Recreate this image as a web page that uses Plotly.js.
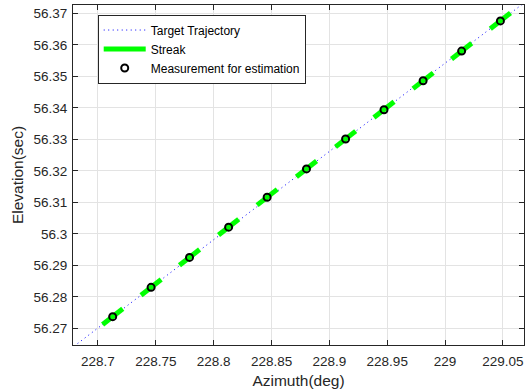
<!DOCTYPE html>
<html>
<head>
<meta charset="utf-8">
<script src="https://cdn.plot.ly/plotly-3.0.1.min.js"></script>
<style>html,body{margin:0;padding:0;background:#fff;}#chart{width:525px;height:392px;}</style>
</head>
<body>
<div id="chart"></div>
<script>
// Target trajectory (endpoints, extending past the axes)
var trajAz = [228.670, 229.070];
var trajEl = [56.2617, 56.3738];

// Measurements for estimation
var measAz = [228.7127, 228.7459, 228.7791, 228.8129, 228.8462, 228.8802, 228.9140, 228.9472, 228.9810, 229.0143, 229.0478];
var measEl = [56.2737, 56.2830, 56.2925, 56.3021, 56.3116, 56.3206, 56.3301, 56.3394, 56.3486, 56.3580, 56.3676];

// Streak segments (start / end)
var streakAzStart = [228.7040, 228.7372, 228.7704, 228.8042, 228.8375, 228.8715, 228.9053, 228.9385, 228.9723, 229.0056, 229.0391];
var streakAzEnd   = [228.7214, 228.7546, 228.7878, 228.8216, 228.8549, 228.8889, 228.9227, 228.9559, 228.9897, 229.0230, 229.0565];
var streakElStart = [56.2712, 56.2805, 56.2900, 56.2996, 56.3091, 56.3181, 56.3276, 56.3369, 56.3461, 56.3555, 56.3651];
var streakElEnd   = [56.2762, 56.2855, 56.2950, 56.3046, 56.3141, 56.3231, 56.3326, 56.3419, 56.3511, 56.3605, 56.3701];

// Tick labels
var xTickVals = [228.7, 228.75, 228.8, 228.85, 228.9, 228.95, 229, 229.05];
var xTickText = ['228.7', '228.75', '228.8', '228.85', '228.9', '228.95', '229', '229.05'];
var yTickVals = [56.27, 56.28, 56.29, 56.3, 56.31, 56.32, 56.33, 56.34, 56.35, 56.36, 56.37];
var yTickText = ['56.27', '56.28', '56.29', '56.3', '56.31', '56.32', '56.33', '56.34', '56.35', '56.36', '56.37'];

var sx = [], sy = [];
for (var i = 0; i < streakAzStart.length; i++) {
  sx.push(streakAzStart[i], streakAzEnd[i], null);
  sy.push(streakElStart[i], streakElEnd[i], null);
}

var axisColor = '#262626';
var fontFam = 'Liberation Sans, Arial, Helvetica, sans-serif';

var traces = [
  {x: trajAz, y: trajEl, mode: 'lines', name: 'Target Trajectory',
   line: {color: '#0000ff', width: 1, dash: '1px,3.5px'}},
  {x: sx, y: sy, mode: 'lines', name: 'Streak', connectgaps: false,
   line: {color: '#00ff00', width: 5}},
  {x: measAz, y: measEl, mode: 'markers', name: 'Measurement for estimation',
   marker: {symbol: 'circle-open', color: '#000000', size: 7, line: {width: 2, color: '#000000'}}}
];

var layout = {
  width: 525, height: 392,
  margin: {l: 73, r: 1, t: 5, b: 47},
  paper_bgcolor: '#ffffff', plot_bgcolor: '#ffffff',
  font: {family: fontFam, color: axisColor},
  showlegend: true,
  legend: {x: 0.0548, y: 0.972, xanchor: 'left', yanchor: 'top',
    bgcolor: '#ffffff', bordercolor: axisColor, borderwidth: 1,
    font: {size: 12, color: '#000000', family: fontFam}, itemwidth: 42,
    tracegroupgap: 0},
  xaxis: {
    range: [228.6784, 229.0682], tickmode: 'array', tickvals: xTickVals, ticktext: xTickText,
    ticks: 'inside', ticklen: 5, tickcolor: axisColor, showline: true, linecolor: axisColor,
    linewidth: 1, mirror: 'ticks', showgrid: true, gridcolor: '#e3e3e3', zeroline: false,
    tickfont: {size: 13.5, color: axisColor}, ticklabelstandoff: 4,
    title: {text: 'Azimuth(deg)', font: {size: 15.5, color: axisColor}, standoff: 6}
  },
  yaxis: {
    range: [56.2647, 56.37264], tickmode: 'array', tickvals: yTickVals, ticktext: yTickText,
    ticks: 'inside', ticklen: 5, tickcolor: axisColor, showline: true, linecolor: axisColor,
    linewidth: 1, mirror: 'ticks', showgrid: true, gridcolor: '#e3e3e3', zeroline: false,
    tickfont: {size: 13.5, color: axisColor}, ticklabelstandoff: 2,
    title: {text: 'Elevation(sec)', font: {size: 15.5, color: axisColor}, standoff: 6}
  }
};

Plotly.newPlot('chart', traces, layout, {staticPlot: true, displayModeBar: false});
</script>
</body>
</html>
